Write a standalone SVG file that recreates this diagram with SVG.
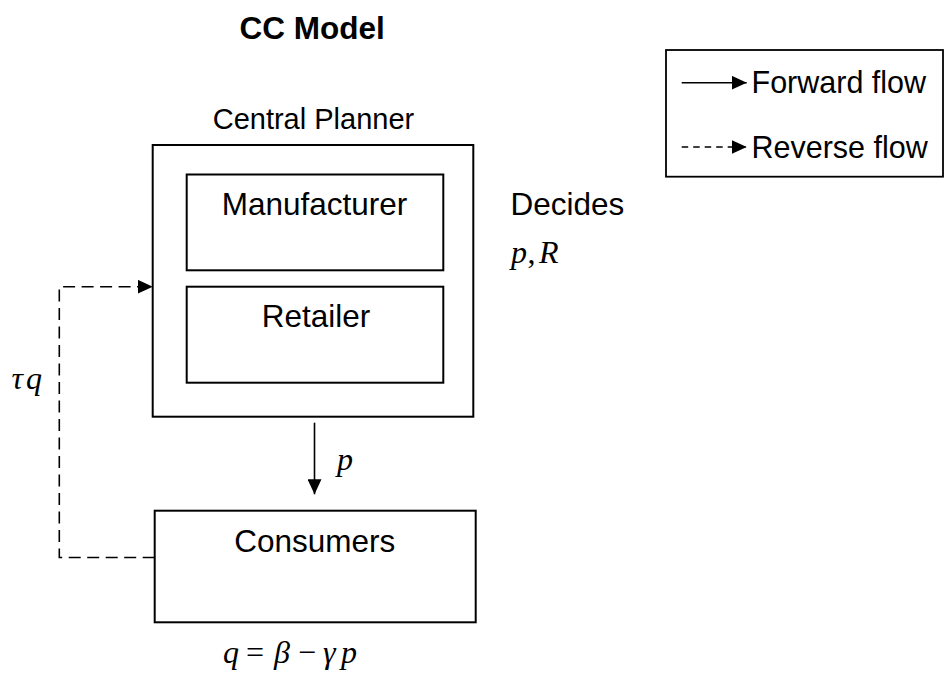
<svg xmlns="http://www.w3.org/2000/svg" width="944" height="677" viewBox="0 0 944 677">
<style>
  .box { fill: #fff; stroke: #000; stroke-width: 2; }
  .lbl { font-family: "Liberation Sans", Arial, sans-serif; font-size: 31.5px; fill: #000; }
  .math { font-family: "Liberation Serif", "Times New Roman", serif; font-style: italic; font-size: 32px; fill: #000; }
  .up { font-style: normal; }
  .solid { fill: none; stroke: #000; stroke-width: 1.6; }
  .dash { fill: none; stroke: #000; stroke-width: 1.6; stroke-dasharray: 12 6.5; }
  .ldash { fill: none; stroke: #000; stroke-width: 1.6; stroke-dasharray: 6.5 5; }
</style>
<defs>
  <marker id="ah" viewBox="0 0 15 14" refX="15" refY="7" markerWidth="15" markerHeight="14" markerUnits="userSpaceOnUse" orient="auto">
    <path d="M0,0 L15,7 L0,14 z" fill="#000"/>
  </marker>
</defs>
<rect width="944" height="677" fill="#fff"/>

<text id="title" x="239.5" y="39.3" class="lbl" font-weight="bold" font-size="31.5px">CC Model</text>

<g id="central-planner">
  <text x="212.7" y="129.3" class="lbl" style="font-size:29px">Central Planner</text>
  <rect class="box" x="152.7" y="145" width="320.6" height="271.7"/>
</g>
<g id="manufacturer">
  <rect class="box" x="186.7" y="174.5" width="256.6" height="95.8"/>
  <text x="221.7" y="215" class="lbl">Manufacturer</text>
</g>
<g id="retailer">
  <rect class="box" x="186.7" y="286.7" width="256.6" height="96"/>
  <text x="261.7" y="326.7" class="lbl">Retailer</text>
</g>
<g id="decides">
  <text x="510.5" y="215" class="lbl">Decides</text>
  <text y="263.3" class="math"><tspan x="511">p</tspan><tspan x="527.5" class="up">,</tspan><tspan x="539">R</tspan></text>
</g>
<g id="consumers">
  <rect class="box" x="154.7" y="510.7" width="321" height="111.6"/>
  <text x="234.3" y="551.7" class="lbl">Consumers</text>
  <text y="663" class="math"><tspan x="223">q</tspan><tspan x="246" class="up">=</tspan><tspan x="274">β</tspan><tspan x="298" class="up">−</tspan><tspan x="323">γ</tspan><tspan x="341">p</tspan></text>
</g>

<g id="legend">
  <rect x="666" y="50" width="277" height="126.7" fill="#fff" stroke="#000" stroke-width="1.8"/>
  <line class="solid" x1="681.7" y1="82.7" x2="746.7" y2="82.7" marker-end="url(#ah)"/>
  <text x="751.5" y="93" class="lbl" style="font-size:30.5px">Forward flow</text>
  <line class="ldash" x1="681.7" y1="147" x2="746.7" y2="147" marker-end="url(#ah)"/>
  <text x="751.5" y="158" class="lbl" style="font-size:30.5px">Reverse flow</text>
</g>

<g id="connectors">
  <line class="solid" x1="314.5" y1="422.7" x2="314.5" y2="494.3" marker-end="url(#ah)"/>
  <text x="337" y="470" class="math">p</text>
  <polyline class="dash" points="154.7,557.5 59.3,557.5 59.3,286.7 152.7,286.7" marker-end="url(#ah)"/>
  <text y="389" class="math"><tspan x="11.5">τ</tspan><tspan x="26">q</tspan></text>
</g>
</svg>
